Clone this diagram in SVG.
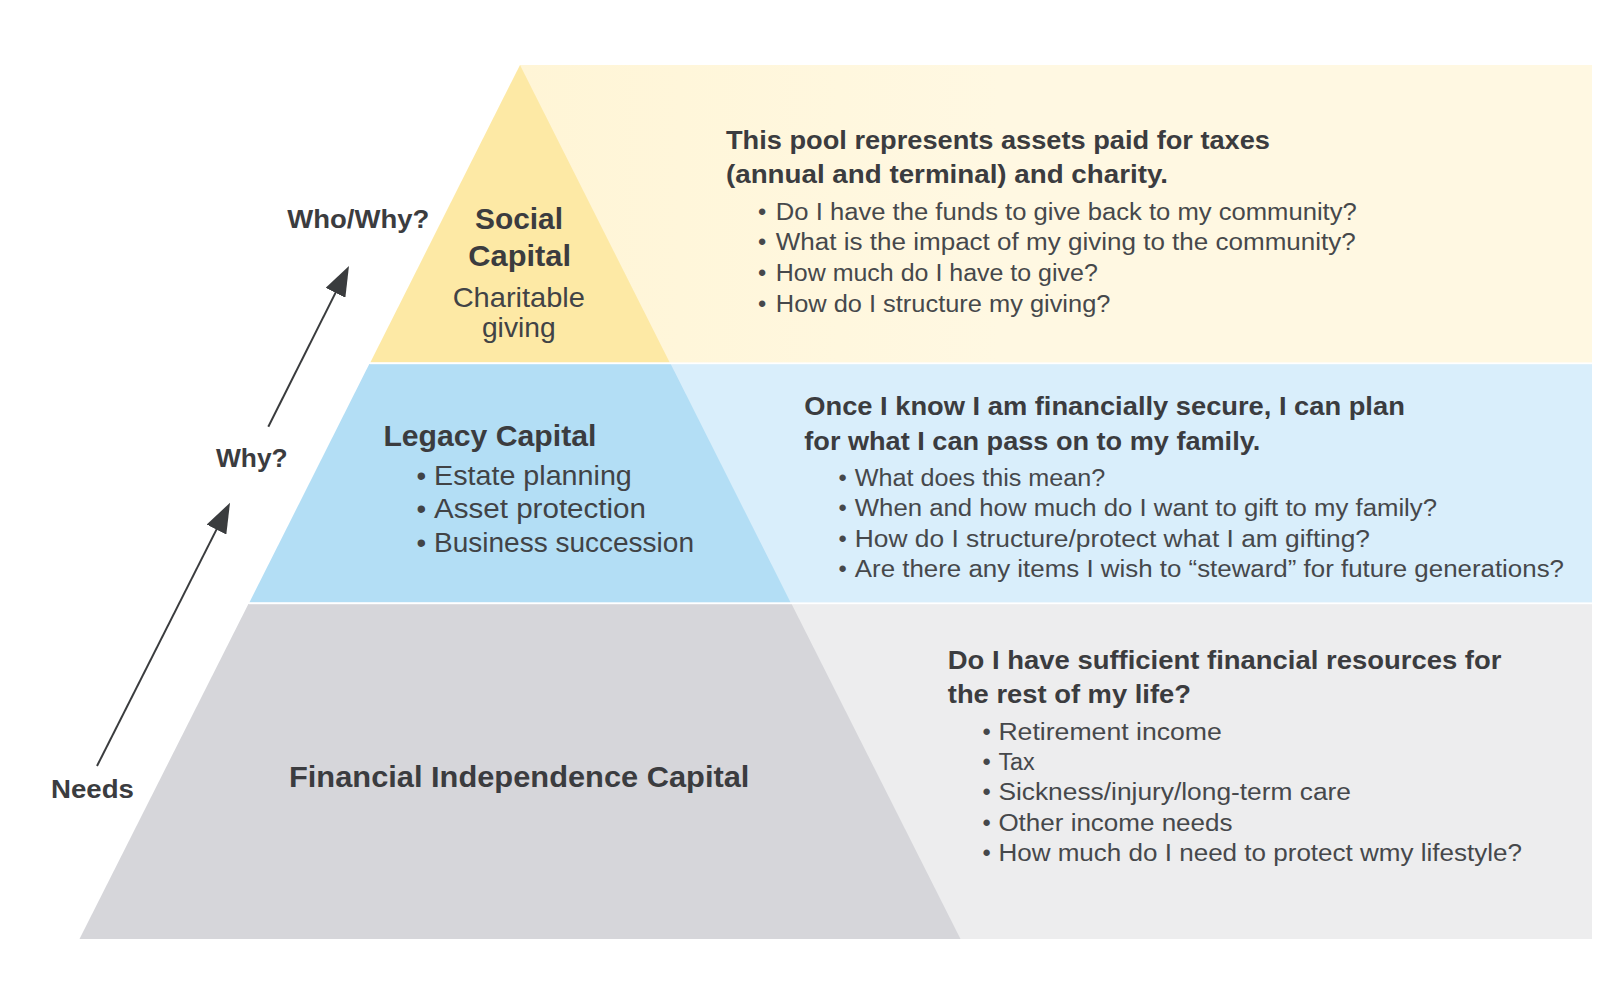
<svg xmlns="http://www.w3.org/2000/svg" width="1600" height="1000" viewBox="0 0 1600 1000">
  <defs>
    <style>
      text { font-family: "Liberation Sans", Arial, sans-serif; fill: #3b3c3f; }
      .lbl { font-size: 26.5px; font-weight: bold; }
      .pt { font-size: 29.5px; font-weight: bold; }
      .ps { font-size: 27.5px; fill: #414346; }
      .h { font-size: 25.5px; font-weight: bold; }
      .li { font-size: 23.5px; fill: #46484b; }
      .conn { stroke: #3a3c3e; stroke-width: 2; fill: none; }
      .sep { stroke: #ffffff; stroke-width: 2; stroke-opacity: 0.8; }
    </style>
    <linearGradient id="gy" x1="520" y1="0" x2="1000" y2="0" gradientUnits="userSpaceOnUse">
      <stop offset="0" stop-color="#fff5d6"/>
      <stop offset="1" stop-color="#fff8e2"/>
    </linearGradient>
    <marker id="ah" markerUnits="userSpaceOnUse" markerWidth="30" markerHeight="22" refX="10" refY="11" orient="auto" viewBox="0 0 30 22">
      <path d="M0,0 L30,11 L0,22 z" fill="#3a3c3e"/>
    </marker>
  </defs>

  <rect width="1600" height="1000" fill="#ffffff"/>

  <g id="panel-social">
    <rect x="520" y="65" width="1072" height="298" fill="url(#gy)"/>
    <text class="h" x="726" y="149.3" textLength="544" lengthAdjust="spacingAndGlyphs">This pool represents assets paid for taxes</text>
    <text class="h" x="726" y="182.7" textLength="442" lengthAdjust="spacingAndGlyphs">(annual and terminal) and charity.</text>
    <text class="li" x="758" y="220">•</text>
    <text class="li" x="775.8" y="220" textLength="581" lengthAdjust="spacingAndGlyphs">Do I have the funds to give back to my community?</text>
    <text class="li" x="758" y="250.3">•</text>
    <text class="li" x="775.8" y="250.3" textLength="580" lengthAdjust="spacingAndGlyphs">What is the impact of my giving to the community?</text>
    <text class="li" x="758" y="281.2">•</text>
    <text class="li" x="775.8" y="281.2" textLength="322" lengthAdjust="spacingAndGlyphs">How much do I have to give?</text>
    <text class="li" x="758" y="311.7">•</text>
    <text class="li" x="775.8" y="311.7" textLength="334.6" lengthAdjust="spacingAndGlyphs">How do I structure my giving?</text>
  </g>

  <g id="panel-legacy">
    <rect x="520" y="364" width="1072" height="239" fill="#d9eefb"/>
    <text class="h" x="804.3" y="415" textLength="600.5" lengthAdjust="spacingAndGlyphs">Once I know I am financially secure, I can plan</text>
    <text class="h" x="804.3" y="450" textLength="456" lengthAdjust="spacingAndGlyphs">for what I can pass on to my family.</text>
    <text class="li" x="838.5" y="485.7">•</text>
    <text class="li" x="854.8" y="485.7" textLength="250.5" lengthAdjust="spacingAndGlyphs">What does this mean?</text>
    <text class="li" x="838.5" y="516">•</text>
    <text class="li" x="854.8" y="516" textLength="582.2" lengthAdjust="spacingAndGlyphs">When and how much do I want to gift to my family?</text>
    <text class="li" x="838.5" y="546.5">•</text>
    <text class="li" x="854.8" y="546.5" textLength="515.2" lengthAdjust="spacingAndGlyphs">How do I structure/protect what I am gifting?</text>
    <text class="li" x="838.5" y="577">•</text>
    <text class="li" x="854.8" y="577" textLength="709.2" lengthAdjust="spacingAndGlyphs">Are there any items I wish to “steward” for future generations?</text>
  </g>

  <g id="panel-financial">
    <rect x="520" y="604" width="1072" height="335" fill="#ededee"/>
    <text class="h" x="947.8" y="669.3" textLength="553.6" lengthAdjust="spacingAndGlyphs">Do I have sufficient financial resources for</text>
    <text class="h" x="947.8" y="703.3" textLength="243.2" lengthAdjust="spacingAndGlyphs">the rest of my life?</text>
    <text class="li" x="982.4" y="739.5">•</text>
    <text class="li" x="998.4" y="739.5" textLength="223.4" lengthAdjust="spacingAndGlyphs">Retirement income</text>
    <text class="li" x="982.4" y="770">•</text>
    <text class="li" x="998.4" y="770" textLength="36.4" lengthAdjust="spacingAndGlyphs">Tax</text>
    <text class="li" x="982.4" y="800.3">•</text>
    <text class="li" x="998.4" y="800.3" textLength="352.6" lengthAdjust="spacingAndGlyphs">Sickness/injury/long-term care</text>
    <text class="li" x="982.4" y="830.5">•</text>
    <text class="li" x="998.4" y="830.5" textLength="234.1" lengthAdjust="spacingAndGlyphs">Other income needs</text>
    <text class="li" x="982.4" y="861">•</text>
    <text class="li" x="998.4" y="861" textLength="523.6" lengthAdjust="spacingAndGlyphs">How much do I need to protect wmy lifestyle?</text>
  </g>

  <g id="tier-social">
    <polygon points="520,65 669.7,362.5 370.3,362.5" fill="#fde9a5"/>
    <text class="pt" x="519" y="229.3" text-anchor="middle" textLength="88" lengthAdjust="spacingAndGlyphs">Social</text>
    <text class="pt" x="519.7" y="266" text-anchor="middle" textLength="102.7" lengthAdjust="spacingAndGlyphs">Capital</text>
    <text class="ps" x="518.8" y="306.7" text-anchor="middle" textLength="132.3" lengthAdjust="spacingAndGlyphs">Charitable</text>
    <text class="ps" x="518.8" y="337" text-anchor="middle" textLength="73.7" lengthAdjust="spacingAndGlyphs">giving</text>
  </g>

  <g id="tier-legacy">
    <polygon points="369.3,364 670.7,364 790.6,602.5 249.4,602.5" fill="#b3def5"/>
    <text class="pt" x="383.4" y="445.7" textLength="213" lengthAdjust="spacingAndGlyphs">Legacy Capital</text>
    <text class="ps" x="416.5" y="485">•</text>
    <text class="ps" x="434" y="485" textLength="197.8" lengthAdjust="spacingAndGlyphs">Estate planning</text>
    <text class="ps" x="416.5" y="518.3">•</text>
    <text class="ps" x="434" y="518.3" textLength="212" lengthAdjust="spacingAndGlyphs">Asset protection</text>
    <text class="ps" x="416.5" y="551.7">•</text>
    <text class="ps" x="434" y="551.7" textLength="260" lengthAdjust="spacingAndGlyphs">Business succession</text>
  </g>

  <g id="tier-financial">
    <polygon points="248.4,604 791.6,604 960.5,939 79.5,939" fill="#d6d6da"/>
    <text class="pt" x="289" y="786.7" textLength="460.4" lengthAdjust="spacingAndGlyphs">Financial Independence Capital</text>
  </g>

  <g id="separators">
    <line class="sep" x1="370" y1="363.2" x2="1592" y2="363.2"/>
    <line class="sep" x1="249" y1="603.2" x2="1592" y2="603.2"/>
  </g>

  <g id="labels">
    <text class="lbl" x="287.3" y="228.3" textLength="142" lengthAdjust="spacingAndGlyphs">Who/Why?</text>
    <text class="lbl" x="216" y="466.7" textLength="71.7" lengthAdjust="spacingAndGlyphs">Why?</text>
    <text class="lbl" x="51" y="797.7" textLength="83" lengthAdjust="spacingAndGlyphs">Needs</text>
  </g>

  <g id="connectors">
    <line class="conn" x1="268.3" y1="426.7" x2="340" y2="283.9" marker-end="url(#ah)"/>
    <line class="conn" x1="97" y1="766" x2="221" y2="520.6" marker-end="url(#ah)"/>
  </g>
</svg>
